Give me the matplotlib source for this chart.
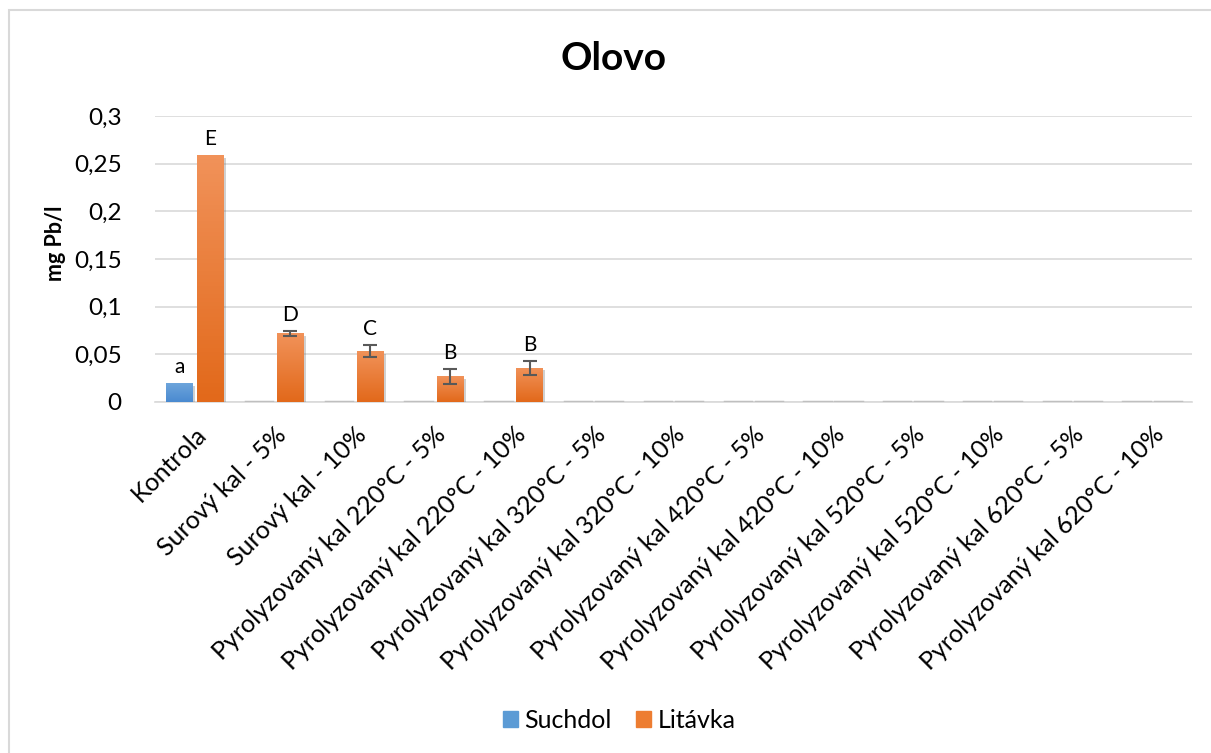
import matplotlib.pyplot as plt
import matplotlib.patheffects as pe
from matplotlib.patches import Rectangle
from matplotlib.colors import LinearSegmentedColormap
import numpy as np

plt.rcParams['font.family'] = ['Lato', 'DejaVu Sans']

categories = ['Kontrola', 'Surový kal - 5%', 'Surový kal - 10%',
              'Pyrolyzovaný kal 220°C - 5%', 'Pyrolyzovaný kal 220°C - 10%',
              'Pyrolyzovaný kal 320°C - 5%', 'Pyrolyzovaný kal 320°C - 10%',
              'Pyrolyzovaný kal 420°C - 5%', 'Pyrolyzovaný kal 420°C - 10%',
              'Pyrolyzovaný kal 520°C - 5%', 'Pyrolyzovaný kal 520°C - 10%',
              'Pyrolyzovaný kal 620°C - 5%', 'Pyrolyzovaný kal 620°C - 10%']
suchdol = [0.020, 0, 0, 0, 0, 0, 0, 0, 0, 0, 0, 0, 0]
suchdol_err = [0, 0, 0, 0, 0, 0, 0, 0, 0, 0, 0, 0, 0]
suchdol_letters = ['a', '', '', '', '', '', '', '', '', '', '', '', '']
litavka = [0.259, 0.072, 0.0535, 0.027, 0.036, 0, 0, 0, 0, 0, 0, 0, 0]
litavka_err = [0, 0.0028, 0.0065, 0.008, 0.0072, 0, 0, 0, 0, 0, 0, 0, 0]
litavka_letters = ['E', 'D', 'C', 'B', 'B', '', '', '', '', '', '', '', '']

fig = plt.figure(figsize=(12.11, 7.53), dpi=100)
# chart frame, clipped on the right and bottom
fig.patches.append(Rectangle((8.5 / 1211, -10 / 753), 1215 / 1211, 753 / 753,
                             transform=fig.transFigure, fill=False,
                             edgecolor='#D9D9D9', linewidth=1.5))
ax = fig.add_axes([155 / 1211, 1 - 402 / 753, 1037 / 1211, 286 / 753])

x = np.arange(len(categories))
w = 0.33
off = 0.195

blue_cm = LinearSegmentedColormap.from_list('b', ['#4A8AD0', '#6FA6DC'])
orange_cm = LinearSegmentedColormap.from_list('o', ['#E2691B', '#F19259'])
grad = np.linspace(0, 1, 64).reshape(-1, 1)


def draw_series(xs, vals, errs, letters, cmap, mid):
    bars = ax.bar(xs, vals, w, color=mid, zorder=3)
    for b, v, e, t in zip(bars, vals, errs, letters):
        b.set_path_effects([pe.SimplePatchShadow(offset=(2, -2), shadow_rgbFace='0.4', alpha=0.3),
                            pe.Normal()])
        if v > 0:
            im = ax.imshow(grad, cmap=cmap, origin='lower', aspect='auto',
                           extent=[b.get_x(), b.get_x() + w, 0, v], zorder=4)
            im.set_clip_path(b)
        else:
            ax.plot([b.get_x(), b.get_x() + w], [0, 0], color='#BFBFBF', lw=2.5, zorder=4)
        if e > 0:
            ax.errorbar(b.get_x() + w / 2, v, yerr=e, fmt='none', ecolor='#595959',
                        elinewidth=1.5, capsize=5, capthick=1.5, zorder=5)
        if t:
            ax.text(b.get_x() + w / 2, v + e + 0.006, t, ha='center', va='bottom',
                    fontsize=15, color='black', zorder=6)


draw_series(x - off, suchdol, suchdol_err, suchdol_letters, blue_cm, '#5B9BD5')
draw_series(x + off, litavka, litavka_err, litavka_letters, orange_cm, '#ED7D31')

ax.set_xlim(-0.5, len(categories) - 0.5)
ax.set_ylim(0, 0.3)
ax.set_yticks(np.arange(0, 0.31, 0.05))
ax.set_yticklabels(['0', '0,05', '0,1', '0,15', '0,2', '0,25', '0,3'], fontsize=17.5)
ax.set_xticks(x)
ax.set_xticklabels(categories, rotation=45, ha='right', va='top',
                   rotation_mode='anchor', fontsize=18)
ax.tick_params(axis='both', length=0)
ax.tick_params(axis='y', pad=24)
ax.tick_params(axis='x', pad=15)
ax.grid(axis='y', color='#D9D9D9', linewidth=1.2, zorder=0)
ax.set_axisbelow(True)
for s in ['top', 'right', 'left']:
    ax.spines[s].set_visible(False)
ax.spines['bottom'].set_color('#D9D9D9')
ax.spines['bottom'].set_linewidth(1.2)
ax.set_ylabel('mg Pb/l', fontsize=15.5, fontweight='bold')
ax.yaxis.set_label_coords(-89 / 1037, (402 - 243) / 286)

fig.text(614 / 1211, 1 - 58 / 753, 'Olovo', ha='center', va='center',
         fontsize=28, fontweight='bold')

handles = [Rectangle((0, 0), 1, 1, color='#5B9BD5'), Rectangle((0, 0), 1, 1, color='#ED7D31')]
fig.legend(handles, ['Suchdol', 'Litávka'], loc='center', bbox_to_anchor=(619 / 1211, 1 - 720 / 753),
           ncol=2, frameon=False, fontsize=18, handlelength=0.6, handleheight=0.6,
           handletextpad=0.25, columnspacing=1.0)

fig.savefig('out.png', dpi=100)
